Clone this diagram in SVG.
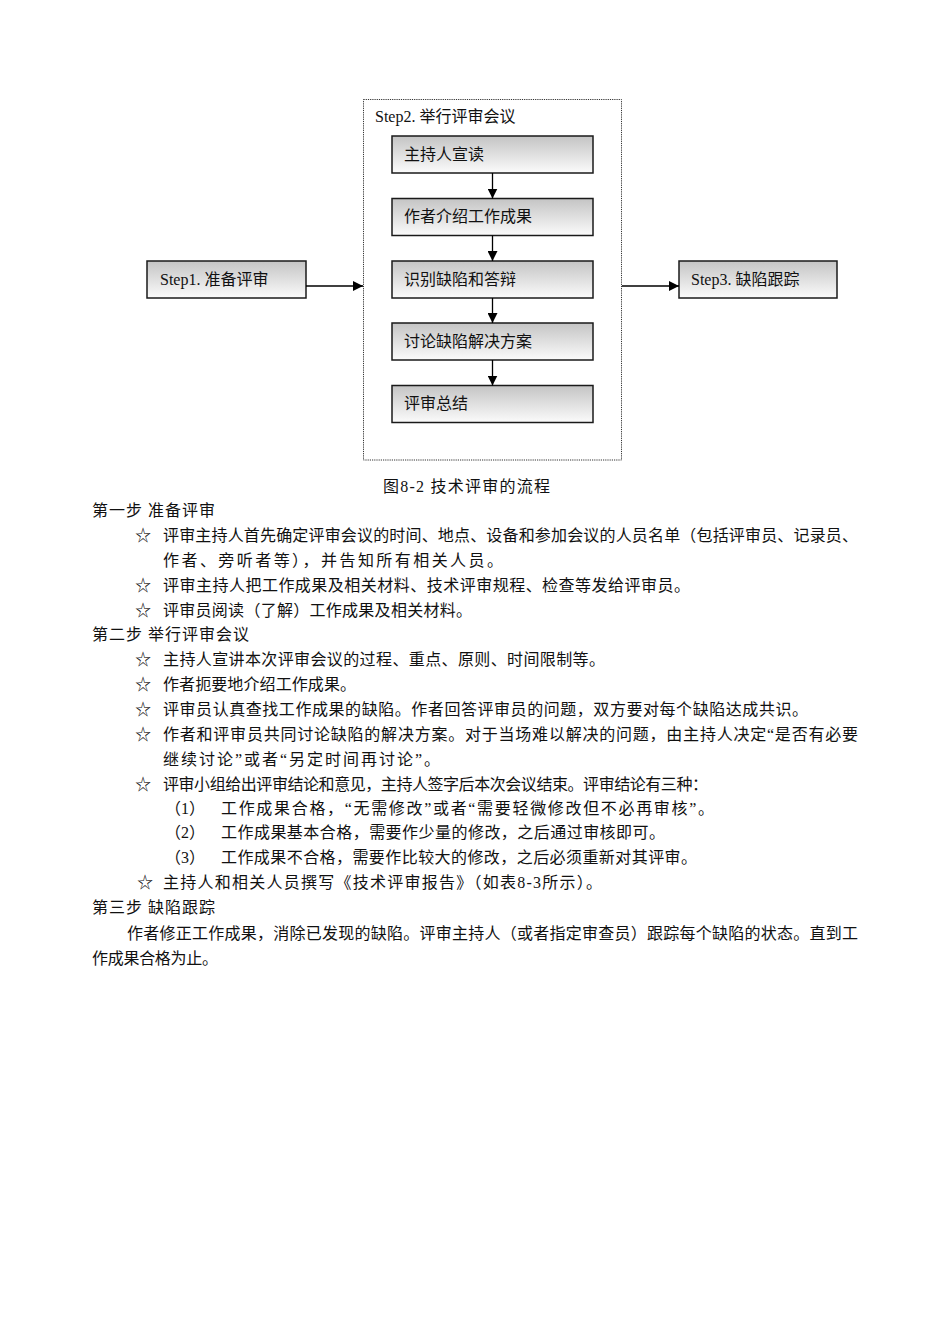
<svg xmlns="http://www.w3.org/2000/svg" width="950" height="1344" viewBox="0 0 950 1344">
<style>
.box{stroke:#1a1a1a;stroke-width:1.5;fill:url(#g)}
.bt{font-family:"Liberation Serif","Noto Sans CJK SC",serif;font-size:16px;fill:#111}
.t{font-family:"Liberation Serif","Noto Sans CJK SC",serif;font-size:16px;fill:#111}
.ln{stroke:#000;stroke-width:1.3;fill:none}
</style>
<defs>
<linearGradient id="g" x1="0" y1="0" x2="0" y2="1">
<stop offset="0" stop-color="#c4c4c4"/>
<stop offset="1" stop-color="#fbfbfb"/>
</linearGradient>
<marker id="ah" viewBox="0 0 10 10" refX="10" refY="5" markerWidth="10" markerHeight="10" markerUnits="userSpaceOnUse" orient="auto">
<path d="M0,0 L10,5 L0,10 z" fill="#000"/>
</marker>
</defs>
<rect width="950" height="1344" fill="#fff"/>

<g id="step2">
<rect x="363.5" y="99.5" width="258" height="360.5" fill="none" stroke="#333" stroke-width="1" stroke-dasharray="1.2,1"/>
<text class="bt" x="375" y="122">Step2. 举行评审会议</text>
</g>
<g id="step1">
<rect class="box" x="147" y="261" width="159" height="37"/>
<text class="bt" x="160" y="285">Step1. 准备评审</text>
</g>
<g id="step3">
<rect class="box" x="679" y="261" width="158" height="37"/>
<text class="bt" x="691" y="285">Step3. 缺陷跟踪</text>
</g>
<g id="n1">
<rect class="box" x="392" y="136" width="201" height="37"/>
<text class="bt" x="404" y="160">主持人宣读</text>
</g>
<g id="n2">
<rect class="box" x="392" y="198.5" width="201" height="37"/>
<text class="bt" x="404" y="222">作者介绍工作成果</text>
</g>
<g id="n3">
<rect class="box" x="392" y="261" width="201" height="37"/>
<text class="bt" x="404" y="285">识别缺陷和答辩</text>
</g>
<g id="n4">
<rect class="box" x="392" y="323" width="201" height="37"/>
<text class="bt" x="404" y="347">讨论缺陷解决方案</text>
</g>
<g id="n5">
<rect class="box" x="392" y="385.5" width="201" height="37"/>
<text class="bt" x="404" y="409">评审总结</text>
</g>

<g id="connectors">
<line class="ln" x1="306" y1="286" x2="363" y2="286" marker-end="url(#ah)"/>
<line class="ln" x1="622" y1="286" x2="679" y2="286" marker-end="url(#ah)"/>
<line class="ln" x1="492.5" y1="173" x2="492.5" y2="198.5" marker-end="url(#ah)"/>
<line class="ln" x1="492.5" y1="235.5" x2="492.5" y2="261" marker-end="url(#ah)"/>
<line class="ln" x1="492.5" y1="298" x2="492.5" y2="323" marker-end="url(#ah)"/>
<line class="ln" x1="492.5" y1="360" x2="492.5" y2="385.5" marker-end="url(#ah)"/>
</g>

<g id="body">
<text class="t" x="383" y="492" textLength="167" lengthAdjust="spacing">图8-2 技术评审的流程</text>
<text class="t" x="92" y="516" textLength="123" lengthAdjust="spacing">第一步 准备评审</text>
<text class="t" x="135" y="541">☆</text>
<text class="t" x="163" y="541" textLength="695" lengthAdjust="spacing">评审主持人首先确定评审会议的时间、地点、设备和参加会议的人员名单（包括评审员、记录员、</text>
<text class="t" x="163" y="566" textLength="340" lengthAdjust="spacing">作者、旁听者等），并告知所有相关人员。</text>
<text class="t" x="135" y="591">☆</text>
<text class="t" x="163" y="591" textLength="527" lengthAdjust="spacing">评审主持人把工作成果及相关材料、技术评审规程、检查等发给评审员。</text>
<text class="t" x="135" y="616">☆</text>
<text class="t" x="163" y="616" textLength="309" lengthAdjust="spacing">评审员阅读（了解）工作成果及相关材料。</text>
<text class="t" x="92" y="640" textLength="157" lengthAdjust="spacing">第二步 举行评审会议</text>
<text class="t" x="135" y="665">☆</text>
<text class="t" x="163" y="665" textLength="442" lengthAdjust="spacing">主持人宣讲本次评审会议的过程、重点、原则、时间限制等。</text>
<text class="t" x="135" y="690">☆</text>
<text class="t" x="163" y="690" textLength="193" lengthAdjust="spacing">作者扼要地介绍工作成果。</text>
<text class="t" x="135" y="715">☆</text>
<text class="t" x="163" y="715" textLength="645" lengthAdjust="spacing">评审员认真查找工作成果的缺陷。作者回答评审员的问题，双方要对每个缺陷达成共识。</text>
<text class="t" x="135" y="740">☆</text>
<text class="t" x="163" y="740" textLength="695" lengthAdjust="spacing">作者和评审员共同讨论缺陷的解决方案。对于当场难以解决的问题，由主持人决定“是否有必要</text>
<text class="t" x="163" y="765" textLength="277" lengthAdjust="spacing">继续讨论”或者“另定时间再讨论”。</text>
<text class="t" x="135" y="790">☆</text>
<text class="t" x="163" y="790" textLength="545" lengthAdjust="spacing">评审小组给出评审结论和意见，主持人签字后本次会议结束。评审结论有三种：</text>
<text class="t" x="165" y="814">（1）</text>
<text class="t" x="221" y="814" textLength="493" lengthAdjust="spacing">工作成果合格，“无需修改”或者“需要轻微修改但不必再审核”。</text>
<text class="t" x="165" y="838">（2）</text>
<text class="t" x="221" y="838" textLength="444" lengthAdjust="spacing">工作成果基本合格，需要作少量的修改，之后通过审核即可。</text>
<text class="t" x="165" y="863">（3）</text>
<text class="t" x="221" y="863" textLength="476" lengthAdjust="spacing">工作成果不合格，需要作比较大的修改，之后必须重新对其评审。</text>
<text class="t" x="137" y="888">☆</text>
<text class="t" x="163" y="888" textLength="439" lengthAdjust="spacing">主持人和相关人员撰写《技术评审报告》（如表8-3所示）。</text>
<text class="t" x="92" y="913" textLength="123" lengthAdjust="spacing">第三步 缺陷跟踪</text>
<text class="t" x="127" y="939" textLength="731" lengthAdjust="spacing">作者修正工作成果，消除已发现的缺陷。评审主持人（或者指定审查员）跟踪每个缺陷的状态。直到工</text>
<text class="t" x="92" y="964" textLength="126" lengthAdjust="spacing">作成果合格为止。</text>
</g>
</svg>
